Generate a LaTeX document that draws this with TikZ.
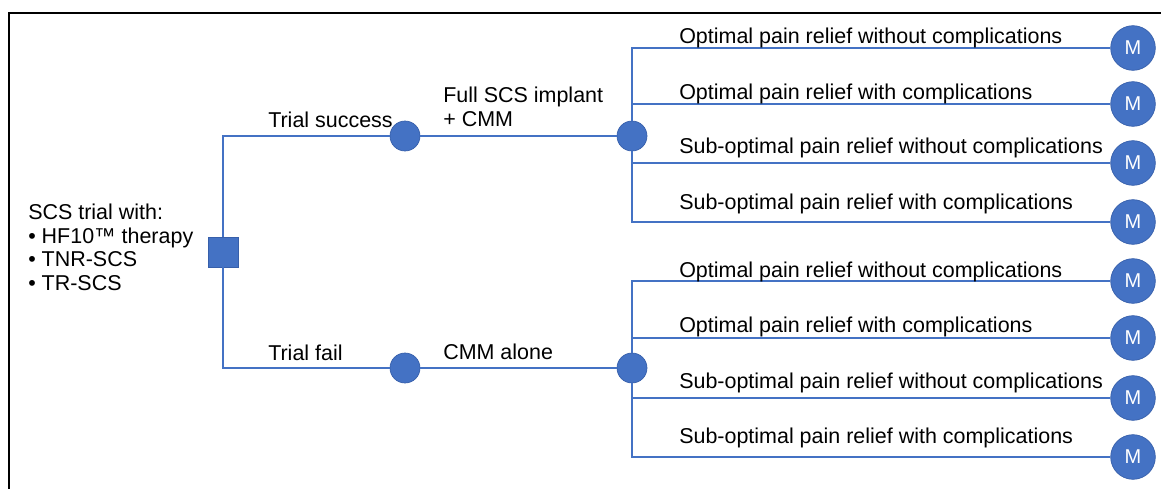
\documentclass[tikz,border=0pt]{standalone}
\usepackage{fontspec}
\setmainfont{Liberation Sans}
\definecolor{treeblue}{RGB}{68,114,196}
\definecolor{treeedge}{RGB}{55,95,170}

\begin{document}
\begin{tikzpicture}[x=0.75pt, y=-0.75pt,
    font=\fontsize{16.1pt}{17.6pt}\selectfont,
    branch/.style={draw=treeblue, line width=1pt},
    decision/.style={rectangle, fill=treeblue, draw=treeedge, line width=0.5pt,
      minimum size=22.5pt, inner sep=0pt},
    chance/.style={circle, fill=treeblue, draw=treeedge, line width=0.5pt,
      minimum size=22.5pt, inner sep=0pt},
    markov/.style={circle, fill=treeblue, draw=treeedge, line width=0.5pt,
      minimum size=33.5pt, inner sep=0pt, text=white,
      font=\fontsize{15pt}{17pt}\selectfont},
    lbl/.style={anchor=base west, inner sep=0pt}]
    \useasboundingbox (0,0) rectangle (1161,489);
    \draw [line width=2pt] (9,489) -- (9,13) -- (1161,13);

    % decision, chance and Markov nodes
    \node [decision] (dec)  at (223,252) {};
    \node [chance]   (succ) at (405,136) {};
    \node [chance]   (fail) at (405,368) {};
    \node [chance]   (impl) at (632,136) {};
    \node [chance]   (cmm)  at (632,368) {};
    \path (1133,48)  node [markov] (m1) {M}
          (1133,104) node [markov] (m2) {M}
          (1133,163) node [markov] (m3) {M}
          (1133,222) node [markov] (m4) {M}
          (1133,281) node [markov] (m5) {M}
          (1133,338) node [markov] (m6) {M}
          (1133,398) node [markov] (m7) {M}
          (1133,457) node [markov] (m8) {M};

    % branches
    \draw [branch] (dec) |- (succ);
    \draw [branch] (dec) |- (fail);
    \draw [branch] (succ) -- (impl);
    \draw [branch] (fail) -- (cmm);
    \draw [branch] (impl) |- (m1);
    \draw [branch] (impl) |- (m2);
    \draw [branch] (impl) |- (m3);
    \draw [branch] (impl) |- (m4);
    \draw [branch] (cmm) |- (m5);
    \draw [branch] (cmm) |- (m6);
    \draw [branch] (cmm) |- (m7);
    \draw [branch] (cmm) |- (m8);

    % labels
    \node [anchor=north west, inner sep=0pt, align=left] (start) at (28,204)
      {SCS trial with:\\• HF10™ therapy\\• TNR-SCS\\• TR-SCS};
    \node [anchor=north west, inner sep=0pt, align=left] (implant) at (443,87)
      {Full SCS implant\\+ CMM};
    \path (268,127) node [lbl] (lsucc) {Trial success}
          (268,360) node [lbl] (lfail) {Trial fail}
          (443,359) node [lbl] (lcmm)  {CMM alone};
    \path (679,43)  node [lbl] (o1) {Optimal pain relief without complications}
          (679,99)  node [lbl] (o2) {Optimal pain relief with complications}
          (679,153) node [lbl] (o3) {Sub-optimal pain relief without complications}
          (679,209) node [lbl] (o4) {Sub-optimal pain relief with complications}
          (679,277) node [lbl] (o5) {Optimal pain relief without complications}
          (679,332) node [lbl] (o6) {Optimal pain relief with complications}
          (679,388) node [lbl] (o7) {Sub-optimal pain relief without complications}
          (679,443) node [lbl] (o8) {Sub-optimal pain relief with complications};
\end{tikzpicture}
\end{document}
